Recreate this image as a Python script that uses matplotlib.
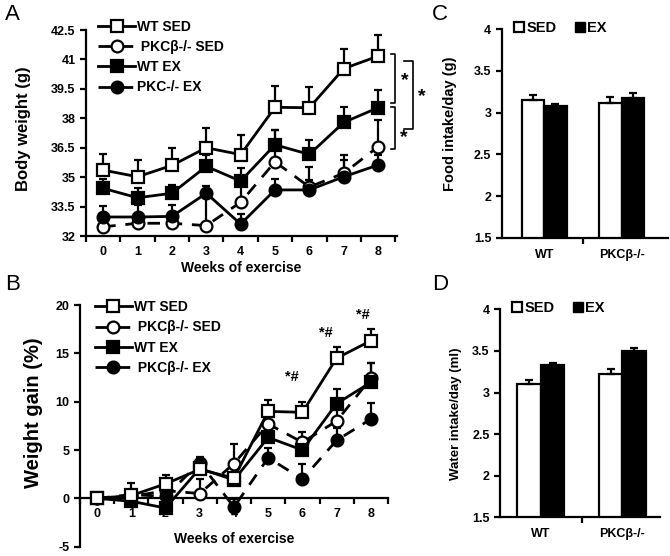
import matplotlib
matplotlib.use("Agg")
import matplotlib.pyplot as plt
import numpy as np
from matplotlib.lines import Line2D

plt.rcParams['font.family'] = ['Liberation Sans', 'DejaVu Sans']

weeks = [0, 1, 2, 3, 4, 5, 6, 7, 8]

# Panel A: body weight (g)
bw_wt_sed = [35.36, 35.02, 35.6, 36.5, 36.15, 38.56, 38.54, 40.53, 41.17]
bw_wt_sed_err = [0.82, 0.85, 0.87, 1.0, 1.0, 1.1, 1.05, 1.0, 1.1]
bw_pkc_sed = [32.47, 32.65, 32.65, 32.53, 33.72, 35.78, 34.5, 35.2, 36.55]
bw_pkc_sed_err = [0.4, 0.4, 0.4, 1.6, 1.1, 1.6, 1.0, 0.95, 1.35]
bw_wt_ex = [34.43, 33.95, 34.18, 35.55, 34.8, 36.65, 36.16, 37.79, 38.54]
bw_wt_ex_err = [0.5, 0.5, 0.42, 0.6, 0.68, 0.75, 0.75, 0.8, 0.9]
bw_pkc_ex = [32.97, 32.97, 33.0, 34.18, 32.61, 34.35, 34.35, 35.02, 35.62]
bw_pkc_ex_err = [0.58, 0.6, 0.6, 0.35, 0.5, 0.55, 0.5, 0.85, 0.5]

# Panel B: weight gain (%)
wg_wt_sed = [0, 0.3, 1.5, 3.0, 2.1, 9.0, 8.9, 14.5, 16.3]
wg_wt_sed_err = [0, 1.3, 0.9, 1.3, 1.3, 1.2, 1.1, 1.2, 1.2]
wg_pkc_sed = [0, 0.2, 0.8, 0.5, 3.6, 7.7, 5.8, 8.0, 12.4]
wg_pkc_sed_err = [0, 0.5, 0.6, 1.5, 2.0, 1.3, 1.1, 1.5, 1.6]
wg_wt_ex = [0, -0.3, -1.0, 3.1, 1.9, 6.3, 5.0, 9.8, 12.0]
wg_wt_ex_err = [0, 0.5, 0.6, 0.6, 0.8, 1.1, 1.0, 1.5, 2.0]
wg_pkc_ex = [0, 0.4, 0.2, 3.7, -0.9, 4.2, 2.0, 6.0, 8.2]
wg_pkc_ex_err = [0, 0.4, 0.5, 0.5, 0.8, 1.0, 1.6, 1.3, 1.7]

# Panels C & D
groups = ['WT', 'PKCβ-/-']
food_sed = [3.15, 3.12]
food_sed_err = [0.06, 0.07]
food_ex = [3.08, 3.17]
food_ex_err = [0.02, 0.07]
water_sed = [3.10, 3.22]
water_sed_err = [0.05, 0.06]
water_ex = [3.33, 3.50]
water_ex_err = [0.02, 0.04]

fig = plt.figure(figsize=(6.7, 5.56), dpi=100)

LW = 2.0
MS = 8.5
DASH = (0, (4.5, 3.5))
TICK_FS = 9


def style_axes(ax):
    for s in ['top', 'right']:
        ax.spines[s].set_visible(False)
    for s in ['left', 'bottom']:
        ax.spines[s].set_linewidth(1.6)
    ax.tick_params(axis='both', which='both', width=1.6, direction='out')
    for lab in ax.get_xticklabels() + ax.get_yticklabels():
        lab.set_fontweight('bold')


def line_series(ax, y, err, marker, mfc, ls):
    ax.errorbar(weeks, y, yerr=[np.zeros(len(err)), err], fmt='none',
                ecolor='black', elinewidth=1.6, capsize=3, capthick=1.6, zorder=2)
    ax.plot(weeks, y, color='black', lw=LW, linestyle=ls, marker=marker,
            markersize=MS, markerfacecolor=mfc, markeredgecolor='black',
            markeredgewidth=1.6, zorder=3)


def make_legend(ax, labels, anchor):
    specs = [('s', 'white', '-'), ('o', 'white', DASH), ('s', 'black', '-'), ('o', 'black', DASH)]
    handles = [Line2D([0], [0], color='black', lw=LW, linestyle=ls, marker=m,
                      markersize=MS, markerfacecolor=fc, markeredgecolor='black',
                      markeredgewidth=1.6) for (m, fc, ls) in specs]
    ax.legend(handles, labels, loc='upper left', bbox_to_anchor=anchor,
              frameon=False, handlelength=2.6, handletextpad=0.2,
              labelspacing=0.45, borderpad=0, borderaxespad=0,
              prop={'weight': 'bold', 'size': 10})


# ---------- Panel A ----------
axA = fig.add_axes([0.1284, 0.5755, 0.4641, 0.3705])
line_series(axA, bw_pkc_sed, bw_pkc_sed_err, 'o', 'white', DASH)
line_series(axA, bw_pkc_ex, bw_pkc_ex_err, 'o', 'black', '-')
line_series(axA, bw_wt_ex, bw_wt_ex_err, 's', 'black', '-')
line_series(axA, bw_wt_sed, bw_wt_sed_err, 's', 'white', '-')
axA.set_xlim(-0.5, 8.55)
axA.set_ylim(32, 42.5)
axA.set_yticks([32, 33.5, 35, 36.5, 38, 39.5, 41, 42.5])
axA.set_yticklabels(['32', '33.5', '35', '36.5', '38', '39.5', '41', '42.5'], fontsize=TICK_FS)
axA.set_xticks(weeks)
axA.set_xticklabels([str(w) for w in weeks], fontsize=TICK_FS)
axA.set_xticks(np.arange(-0.5, 9, 1), minor=True)
axA.tick_params(axis='x', which='major', length=0, pad=7)
axA.tick_params(axis='x', which='minor', length=4)
axA.tick_params(axis='y', length=4)
axA.set_xlabel('Weeks of exercise', fontsize=10, fontweight='bold', labelpad=2)
axA.set_ylabel('Body weight (g)', fontsize=12, fontweight='bold')
axA.yaxis.set_label_coords(-0.177, 0.52)
style_axes(axA)
make_legend(axA, ['WT SED', ' PKCβ-/- SED', 'WT EX', 'PKC-/- EX'], (0.04, 1.05))
# significance brackets
bk = dict(color='black', lw=1.2, clip_on=False)
axA.plot([8.38, 8.5, 8.5, 8.38], [41.28, 41.28, 38.76, 38.76], **bk)
axA.plot([8.75, 9.02, 9.02, 8.75], [40.94, 40.94, 37.44, 37.44], **bk)
axA.plot([8.38, 8.5, 8.5, 8.38], [38.59, 38.59, 36.42, 36.42], **bk)
for (sx, sy) in [(8.79, 39.9), (9.28, 39.1), (8.74, 37.0)]:
    axA.text(sx, sy, '*', fontsize=14, fontweight='bold', ha='center', va='center', clip_on=False)

# ---------- Panel B ----------
axB = fig.add_axes([0.1194, 0.0167, 0.4596, 0.4347])
line_series(axB, wg_pkc_sed, wg_pkc_sed_err, 'o', 'white', DASH)
line_series(axB, wg_pkc_ex, wg_pkc_ex_err, 'o', 'black', DASH)
line_series(axB, wg_wt_ex, wg_wt_ex_err, 's', 'black', '-')
line_series(axB, wg_wt_sed, wg_wt_sed_err, 's', 'white', '-')
axB.set_xlim(-0.5, 8.5)
axB.set_ylim(-5, 20)
axB.set_yticks([-5, 0, 5, 10, 15, 20])
axB.set_yticklabels(['-5', '0', '5', '10', '15', '20'], fontsize=TICK_FS)
axB.spines['bottom'].set_position(('data', 0))
axB.set_xticks(weeks)
axB.set_xticklabels([str(w) for w in weeks], fontsize=TICK_FS)
axB.set_xticks(np.arange(-0.5, 9, 1), minor=True)
axB.tick_params(axis='x', which='major', length=0, pad=7)
axB.tick_params(axis='x', which='minor', length=4)
axB.tick_params(axis='y', length=4)
axB.set_ylabel('Weight gain (%)', fontsize=14.5, fontweight='bold')
axB.yaxis.set_label_coords(-0.121, 0.553)
axB.text(4.0, -4.2, 'Weeks of exercise', fontsize=10, fontweight='bold', ha='center', va='center')
style_axes(axB)
make_legend(axB, ['WT SED', ' PKCβ-/- SED', 'WT EX', ' PKCβ-/- EX'], (0.05, 1.02))
for (ax_, ay_) in [(5.68, 12.6), (6.7, 17.1), (7.77, 19.0)]:
    axB.text(ax_, ay_, '*#', fontsize=10.5, fontweight='bold', ha='center', va='center')


# ---------- Panels C, D ----------
def bar_panel(rect, sed, sed_err, ex, ex_err, ylabel, ylab_size, xlim, ylab_coords):
    ax = fig.add_axes(rect)
    x = np.arange(len(groups))
    w = 0.29
    ax.bar(x - w / 2, sed, w, bottom=0, color='white', edgecolor='black', linewidth=1.6,
           yerr=[np.zeros(2), sed_err], capsize=3,
           error_kw=dict(elinewidth=1.6, capthick=1.6), zorder=2)
    ax.bar(x + w / 2, ex, w, bottom=0, color='black', edgecolor='black', linewidth=1.6,
           yerr=[np.zeros(2), ex_err], capsize=3,
           error_kw=dict(elinewidth=1.6, capthick=1.6), zorder=2)
    ax.set_ylim(1.5, 4)
    ax.set_xlim(*xlim)
    ax.set_yticks([1.5, 2, 2.5, 3, 3.5, 4])
    ax.set_yticklabels(['1.5', '2', '2.5', '3', '3.5', '4'], fontsize=TICK_FS)
    ax.set_xticks(x)
    ax.set_xticklabels(groups, fontsize=9)
    ax.set_xticks([0.5], minor=True)
    ax.tick_params(axis='x', which='major', length=0, pad=8)
    ax.tick_params(axis='x', which='minor', length=4)
    ax.tick_params(axis='y', length=4)
    ax.set_ylabel(ylabel, fontsize=ylab_size, fontweight='bold')
    ax.yaxis.set_label_coords(*ylab_coords)
    style_axes(ax)
    h1 = Line2D([0], [0], marker='s', color='none', markerfacecolor='white',
                markeredgecolor='black', markeredgewidth=1.6, markersize=7.5)
    h2 = Line2D([0], [0], marker='s', color='none', markerfacecolor='black',
                markeredgecolor='black', markersize=7.5)
    ax.legend([h1, h2], ['SED', 'EX'], loc='upper left', bbox_to_anchor=(0.07, 1.04),
              ncol=2, frameon=False, handlelength=0.8, handletextpad=0.1,
              columnspacing=1.2, borderpad=0, borderaxespad=0,
              prop={'weight': 'bold', 'size': 10.5})
    return ax


axC = bar_panel([0.7488, 0.5725, 0.2482, 0.3748], food_sed, food_sed_err, food_ex, food_ex_err,
                'Food intake/day (g)', 10.5, (-0.55, 1.6), (-0.27, 0.546))
axD = bar_panel([0.7463, 0.0696, 0.2387, 0.3741], water_sed, water_sed_err, water_ex, water_ex_err,
                'Water intake/day (ml)', 9.5, (-0.5, 1.46), (-0.24, 0.5))

# panel letters
for (lx, ly, t) in [(0.008, 0.955, 'A'), (0.008, 0.47, 'B'), (0.645, 0.955, 'C'), (0.645, 0.47, 'D')]:
    fig.text(lx, ly, t, fontsize=16, ha='left', va='bottom')

fig.savefig('out.png', dpi=100)
